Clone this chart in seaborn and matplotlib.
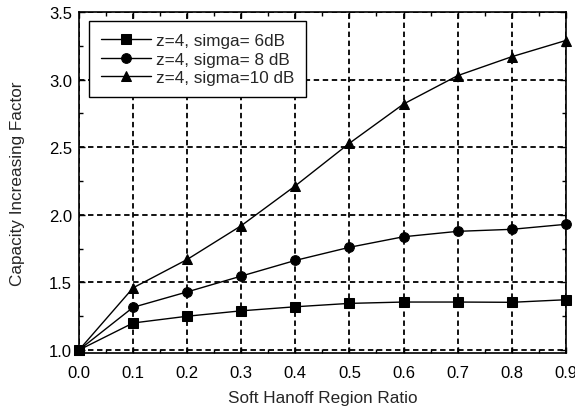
import numpy as np
import pandas as pd
import matplotlib
matplotlib.use("Agg")
import matplotlib.pyplot as plt
import seaborn as sns
from matplotlib.ticker import MultipleLocator

# datos
ratio = [0.0, 0.1, 0.2, 0.3, 0.4, 0.5, 0.6, 0.7, 0.8, 0.9]
sigma6 = [1.0, 1.20, 1.25, 1.29, 1.32, 1.345, 1.355, 1.355, 1.353, 1.372]
sigma8 = [1.0, 1.316, 1.43, 1.547, 1.663, 1.76, 1.838, 1.878, 1.893, 1.93]
sigma10 = [1.0, 1.46, 1.67, 1.92, 2.215, 2.53, 2.82, 3.03, 3.17, 3.29]
labels = ["z=4, simga= 6dB", "z=4, sigma= 8 dB", "z=4, sigma=10 dB"]
markers = ["s", "o", "^"]

sns.set_style("ticks")
plt.rcParams["font.family"] = ["Liberation Sans", "DejaVu Sans"]

fig = plt.figure(figsize=(5.75, 4.1), dpi=100)
ax = fig.add_axes([0.1374, 0.1366, 0.8466, 0.8314])

for vals, lab, mk in zip([sigma6, sigma8, sigma10], labels, markers):
    sns.lineplot(x=ratio, y=vals, ax=ax, color="black", lw=1, marker=mk,
                 markersize=7, markeredgecolor="black",
                 label=lab, zorder=3, clip_on=False)

ax.set_xlim(0, 0.9)
ax.set_ylim(0.978, 3.5)
ax.xaxis.set_major_locator(MultipleLocator(0.1))
ax.xaxis.set_minor_locator(MultipleLocator(0.05))
ax.yaxis.set_major_locator(MultipleLocator(0.5))
ax.yaxis.set_minor_locator(MultipleLocator(0.25))
ax.set_xticklabels([f"{v:.1f}" for v in ax.get_xticks()])
ax.set_yticklabels([f"{v:.1f}" for v in ax.get_yticks()])

ax.tick_params(which="both", direction="in", top=True, right=True,
               colors="black", labelsize=12, width=1)
ax.tick_params(which="major", length=4)
ax.tick_params(which="minor", length=3)
ax.tick_params(axis="x", which="major", pad=9)
ax.tick_params(axis="y", which="major", pad=5)
for s in ax.spines.values():
    s.set_color("black")
    s.set_linewidth(1.2)

ax.grid(True, which="major", color="black", ls=(0, (3, 2)), lw=1.3, zorder=1)
ax.set_axisbelow(True)

ax.set_xlabel("Soft Hanoff Region Ratio", fontsize=12.3, labelpad=7)
ax.set_ylabel("Capacity Increasing Factor", fontsize=12.3, labelpad=17)

leg = ax.legend(loc="upper left", bbox_to_anchor=(0.021, 0.973), fontsize=12.3,
                frameon=True, fancybox=False, framealpha=1, edgecolor="black",
                handlelength=2.9, borderpad=0.7, labelspacing=0.2,
                handletextpad=0.3, borderaxespad=0)
leg.get_frame().set_linewidth(1)

fig.savefig("out.png", dpi=100)
